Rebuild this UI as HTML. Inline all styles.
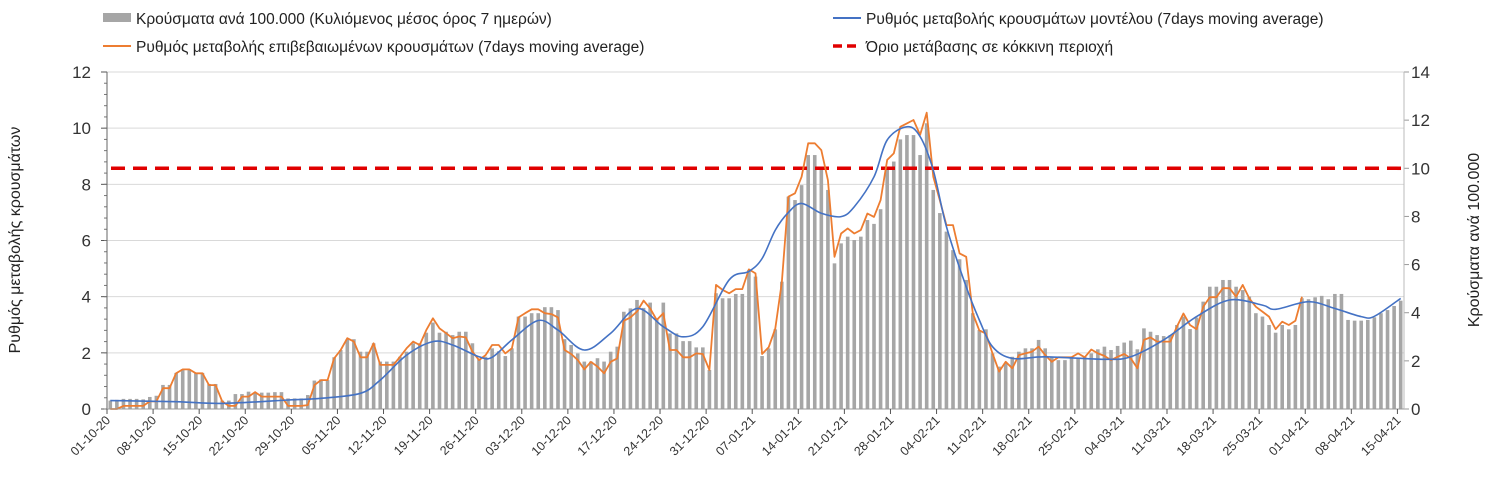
<!DOCTYPE html>
<html><head><meta charset="utf-8">
<style>
body{margin:0;background:#fff;}
svg{display:block;font-family:"Liberation Sans",sans-serif;}
</style></head>
<body>
<svg id="chart" width="1495" height="489" viewBox="0 0 1495 489" xmlns="http://www.w3.org/2000/svg">
  <g id="legend" font-size="15.5" fill="#222">
    <g>
      <rect x="103" y="13" width="28" height="9" fill="#a6a6a6"/>
      <text x="136" y="24">Κρούσματα ανά 100.000 (Κυλιόμενος μέσος όρος 7 ημερών)</text>
    </g>
    <g>
      <line x1="833" y1="18" x2="861" y2="18" stroke="#4472c4" stroke-width="2"/>
      <text x="866" y="24">Ρυθμός μεταβολής κρουσμάτων μοντέλου (7days moving average)</text>
    </g>
    <g>
      <line x1="103" y1="46" x2="131" y2="46" stroke="#ed7d31" stroke-width="2"/>
      <text x="136" y="52">Ρυθμός μεταβολής επιβεβαιωμένων κρουσμάτων (7days moving average)</text>
    </g>
    <g>
      <line x1="833" y1="46" x2="861" y2="46" stroke="#e00000" stroke-width="3.5" stroke-dasharray="9,5"/>
      <text x="866" y="52">Όριο μετάβασης σε κόκκινη περιοχή</text>
    </g>
  </g>
  <g id="grid"></g>
  <g id="bars"></g>
  <g id="lines"></g>
  <g id="axes"></g>
  <text transform="translate(20,240) rotate(-90)" text-anchor="middle" font-size="16" fill="#222">Ρυθμός μεταβολής κρουσμάτων</text>
  <text transform="translate(1479,240) rotate(-90)" text-anchor="middle" font-size="16" fill="#222">Κρούσματα ανά 100.000</text>
</svg>
<script>
const xLabels = ["01-10-20","08-10-20","15-10-20","22-10-20","29-10-20","05-11-20","12-11-20","19-11-20","26-11-20","03-12-20","10-12-20","17-12-20","24-12-20","31-12-20","07-01-21","14-01-21","21-01-21","28-01-21","04-02-21","11-02-21","18-02-21","25-02-21","04-03-21","11-03-21","18-03-21","25-03-21","01-04-21","08-04-21","15-04-21"];
const leftTicks = [0,2,4,6,8,10,12];
const rightTicks = [0,2,4,6,8,10,12,14];
const threshold = 10;
const cases = [0.35,0.38,0.42,0.42,0.42,0.4,0.5,0.55,1.0,1.0,
1.5,1.65,1.65,1.5,1.5,1.04,1.04,0.35,0.35,0.62,
0.62,0.72,0.68,0.68,0.68,0.7,0.7,0.44,0.44,0.44,
0.58,1.18,1.23,1.2,2.15,2.45,2.9,2.9,2.38,2.38,
2.73,1.97,1.97,1.97,2.17,2.38,2.73,2.73,3.17,3.59,
3.17,3.21,3.07,3.21,3.21,2.73,2.06,2.17,2.52,2.4,
2.2,2.52,3.84,3.84,3.98,3.98,4.23,4.23,4.11,2.9,
2.66,2.31,1.97,1.97,2.11,1.97,2.38,2.59,4.04,4.18,
4.53,4.2,4.42,3.77,4.42,3.14,3.14,2.82,2.82,2.56,
2.56,1.62,4.81,4.6,4.6,4.78,4.78,5.78,5.5,2.2,
2.52,3.31,5.29,8.82,8.68,9.3,10.55,10.55,10.07,9.1,
6.05,6.88,7.16,7.02,7.16,7.85,7.69,8.3,9.93,10.28,
11.2,11.38,11.38,10.55,11.87,9.1,8.14,7.37,6.6,6.22,
5.36,3.98,3.28,3.31,2.31,1.76,1.9,2.17,2.38,2.52,
2.52,2.87,2.52,2.17,2.03,2.03,2.1,2.1,2.17,2.31,
2.48,
2.59,2.45,2.62,2.76,2.84,2.48,3.35,3.21,3.07,3.03,
3.07,3.49,3.84,3.32,3.8,4.46,5.08,5.08,5.36,5.36,
5.08,4.94,4.67,3.98,3.84,3.49,3.17,3.49,3.31,3.49,
4.6,4.56,4.64,4.7,4.56,4.78,4.78,3.7,3.67,3.67,
3.7,3.81,3.98,4.11,4.28,4.5];
const confirmedRate = [0,0,0.11,0.11,0.11,0.11,0.27,0.27,0.74,0.74,
1.27,1.41,1.41,1.27,1.27,0.85,0.85,0.27,0.11,0.11,
0.44,0.44,0.6,0.44,0.44,0.44,0.44,0.11,0.11,0.11,
0.14,0.85,1.03,1.03,1.8,2.1,2.52,2.4,1.84,1.84,
2.34,1.57,1.57,1.57,1.86,2.16,2.4,2.28,2.81,3.23,
2.87,2.7,2.52,2.58,2.55,2.04,1.74,1.92,2.28,2.28,
1.98,2.16,3.26,3.41,3.55,3.55,3.41,3.38,3.26,2.1,
1.96,1.75,1.41,1.68,1.51,1.27,1.68,1.8,3.14,3.26,
3.47,3.86,3.58,3.17,3.41,2.1,2.1,1.84,1.84,1.98,
1.96,1.39,4.42,4.24,4.12,4.27,4.27,4.97,4.83,1.96,
2.2,2.87,4.5,7.56,7.68,8.27,9.46,9.46,9.22,8.15,
5.42,6.25,6.43,6.25,6.37,6.96,6.84,7.44,8.87,9.1,
10.05,10.17,10.29,9.76,10.55,8.27,7.44,6.55,6.55,5.54,
5.42,3.4,2.8,2.69,1.98,1.33,1.68,1.45,1.92,1.98,
2.04,2.22,1.92,1.68,1.84,1.84,1.84,1.98,1.84,2.12,1.98,
1.89,1.74,1.86,1.96,1.8,1.45,2.46,2.55,2.4,2.4,
2.4,2.93,3.4,2.99,2.84,3.64,3.98,3.98,4.3,4.3,
4.0,4.42,3.94,3.64,3.47,3.29,2.84,3.11,2.99,3.14,4.0];
const modelDays = [0,10,17,27,32,38,41,45,49,52,56,58,61,65,68,72,76,80,84,87,90,94,97,99,101,103,105,108,111,113,116,118,121,123,125,127,130,132,134,137,142,151,155,160,165,170,175,177,182,186,190,192,196];
const modelRate = [0.3,0.26,0.2,0.32,0.38,0.56,1.03,1.92,2.4,2.28,1.86,1.84,2.46,3.15,2.81,2.1,2.7,3.58,2.93,2.57,2.93,4.6,4.9,5.36,6.37,7.0,7.32,6.97,6.85,7.2,8.27,9.58,10.05,9.7,8.5,6.5,4.35,3.17,2.22,1.8,1.86,1.77,1.86,2.46,3.29,3.88,3.7,3.55,3.82,3.58,3.29,3.3,3.94];

const NS = "http://www.w3.org/2000/svg";
const L = 107, R = 1404, T = 72, B = 409, N = 197;
const dayW = (R - L) / N;
const xBand = i => L + dayW * i;
const xC = i => L + dayW * (i + 0.5);
const yL = v => B - (B - T) * v / 12;
const yR = v => B - (B - T) * v / 14;
function mk(tag, attrs, parent) {
  const e = document.createElementNS(NS, tag);
  for (const k in attrs) e.setAttribute(k, attrs[k]);
  parent.appendChild(e);
  return e;
}
const grid = document.getElementById('grid');
const bars = document.getElementById('bars');
const lines = document.getElementById('lines');
const axes = document.getElementById('axes');

leftTicks.forEach(v => {
  if (v > 0) {
    const g = mk('line', {x1: L, x2: R, y1: yL(v), y2: yL(v), stroke: '#d9d9d9', 'stroke-width': 1}, grid);
    
    
  }
  const t = mk('text', {x: 91, y: yL(v) + 6, 'text-anchor': 'end', 'font-size': 17, fill: '#333'}, axes);
  t.textContent = v;
  
  
  mk('line', {x1: L - 6, x2: L, y1: yL(v), y2: yL(v), stroke: '#555', 'stroke-width': 1}, axes);
});
for (let v = 0; v <= 12; v += 0.4) {
  mk('line', {x1: L - 3, x2: L, y1: yL(v), y2: yL(v), stroke: '#777', 'stroke-width': 1}, axes);
}
rightTicks.forEach(v => {
  const t = mk('text', {x: 1411, y: yR(v) + 6, 'font-size': 17, fill: '#333'}, axes);
  t.textContent = v;
  
  
  mk('line', {x1: R, x2: R + 5, y1: yR(v), y2: yR(v), stroke: '#999', 'stroke-width': 1}, axes);
});
mk('line', {x1: L, x2: L, y1: T, y2: B, stroke: '#666', 'stroke-width': 1}, axes);
mk('line', {x1: R, x2: R, y1: T, y2: B, stroke: '#bbb', 'stroke-width': 1}, axes);
mk('line', {x1: L, x2: R, y1: B, y2: B, stroke: '#999', 'stroke-width': 1}, axes);

cases.forEach((v, i) => {
  const r = mk('rect', {x: xC(i) - 1.8, y: yR(v), width: 3.6, height: B - yR(v), fill: '#a6a6a6'}, bars);
  
  
});

xLabels.forEach((lab, k) => {
  const x = xBand(k * 7);
  mk('line', {x1: x, x2: x, y1: B, y2: B + 5, stroke: '#555', 'stroke-width': 1}, axes);
  const t = mk('text', {transform: `translate(${x + 4},${B + 12}) rotate(-45)`, 'text-anchor': 'end', 'font-size': 12.5, fill: '#333'}, axes);
  t.textContent = lab;
  
  
});

const thr = mk('line', {x1: L + 4, x2: R, y1: yR(threshold), y2: yR(threshold), stroke: '#e00000', 'stroke-width': 3.5, 'stroke-dasharray': '14,8'}, lines);



const op = confirmedRate.map((v, i) => `${i ? 'L' : 'M'}${xC(i).toFixed(1)},${yL(v).toFixed(1)}`).join('');
const o = mk('path', {d: op, fill: 'none', stroke: '#ed7d31', 'stroke-width': 1.8, 'stroke-linejoin': 'round'}, lines);



const pts = modelDays.map((d, i) => [xC(d), yL(modelRate[i])]);
let bp = `M${pts[0][0]},${pts[0][1]}`;
for (let i = 0; i < pts.length - 1; i++) {
  const p0 = pts[Math.max(0, i - 1)], p1 = pts[i], p2 = pts[i + 1], p3 = pts[Math.min(pts.length - 1, i + 2)];
  const c1 = [p1[0] + (p2[0] - p0[0]) / 6, p1[1] + (p2[1] - p0[1]) / 6];
  const c2 = [p2[0] - (p3[0] - p1[0]) / 6, p2[1] - (p3[1] - p1[1]) / 6];
  bp += `C${c1[0].toFixed(1)},${c1[1].toFixed(1)} ${c2[0].toFixed(1)},${c2[1].toFixed(1)} ${p2[0].toFixed(1)},${p2[1].toFixed(1)}`;
}
const b = mk('path', {d: bp, fill: 'none', stroke: '#4472c4', 'stroke-width': 1.6}, lines);


</script>
</body></html>
